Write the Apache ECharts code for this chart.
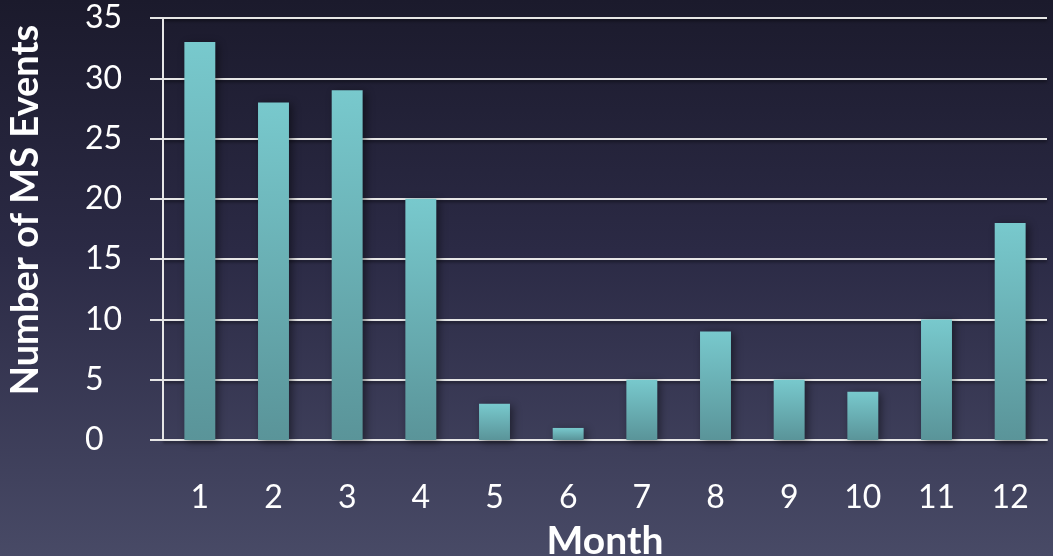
<!DOCTYPE html>
<html>
<head>
<meta charset="utf-8">
<script src="https://cdn.jsdelivr.net/npm/echarts@6/dist/echarts.min.js"></script>
<style>
  html, body { margin: 0; padding: 0; }
  #chart {
    width: 1053px;
    height: 556px;
    background: linear-gradient(to bottom, #1b1a2c 0%, #2b2a45 45%, #484a66 100%);
  }
</style>
</head>
<body>
<div id="chart"></div>
<script>
// chart data
const months = ['1', '2', '3', '4', '5', '6', '7', '8', '9', '10', '11', '12'];
const msEvents = [33, 28, 29, 20, 3, 1, 5, 9, 5, 4, 10, 18];

const yTitle = 'Number of MS Events';
const xTitle = 'Month';

const chart = echarts.init(document.getElementById('chart'));
const fontFamily = 'Lato, "Open Sans", sans-serif';

chart.setOption({
  backgroundColor: 'transparent',
  animation: false,
  grid: { left: 163, right: 6, top: 18, bottom: 116, outerBoundsMode: 'none' },
  xAxis: {
    type: 'category',
    data: months,
    name: xTitle,
    nameLocation: 'middle',
    nameGap: 82,
    nameTextStyle: { color: '#ffffff', fontSize: 39, fontWeight: 'bold', fontFamily },
    axisLine: { lineStyle: { color: '#e6e6e6', width: 2 } },
    axisTick: { alignWithLabel: false, length: 13, lineStyle: { color: '#e6e6e6', width: 2 } },
    axisLabel: { color: '#ffffff', fontSize: 32, margin: 42, fontFamily },
  },
  yAxis: {
    type: 'value',
    min: 0,
    max: 35,
    interval: 5,
    name: yTitle,
    nameLocation: 'middle',
    nameGap: 118,
    nameRotate: 90,
    nameTextStyle: {
      color: '#ffffff', fontSize: 38, fontWeight: 'bold', fontFamily,
      padding: [0, 0, 0, 38],
    },
    axisLine: { show: true, lineStyle: { color: '#e6e6e6', width: 2 } },
    axisTick: { show: true, length: 13, lineStyle: { color: '#e6e6e6', width: 2 } },
    axisLabel: { color: '#ffffff', fontSize: 32, margin: 78, align: 'left', fontFamily },
    splitLine: {
      lineStyle: { color: '#e6e6e6', width: 2, shadowColor: 'rgba(0,0,0,0.5)', shadowBlur: 3, shadowOffsetY: 2 },
    },
  },
  series: [{
    type: 'bar',
    data: msEvents,
    barWidth: '42%',
    itemStyle: {
      color: new echarts.graphic.LinearGradient(0, 0, 0, 1, [
        { offset: 0, color: '#78c9cd' },
        { offset: 1, color: '#5a9499' },
      ]),
      shadowColor: 'rgba(0,0,0,0.45)',
      shadowBlur: 8,
      shadowOffsetX: 3,
      shadowOffsetY: 2,
    },
  }],
});
</script>
</body>
</html>
